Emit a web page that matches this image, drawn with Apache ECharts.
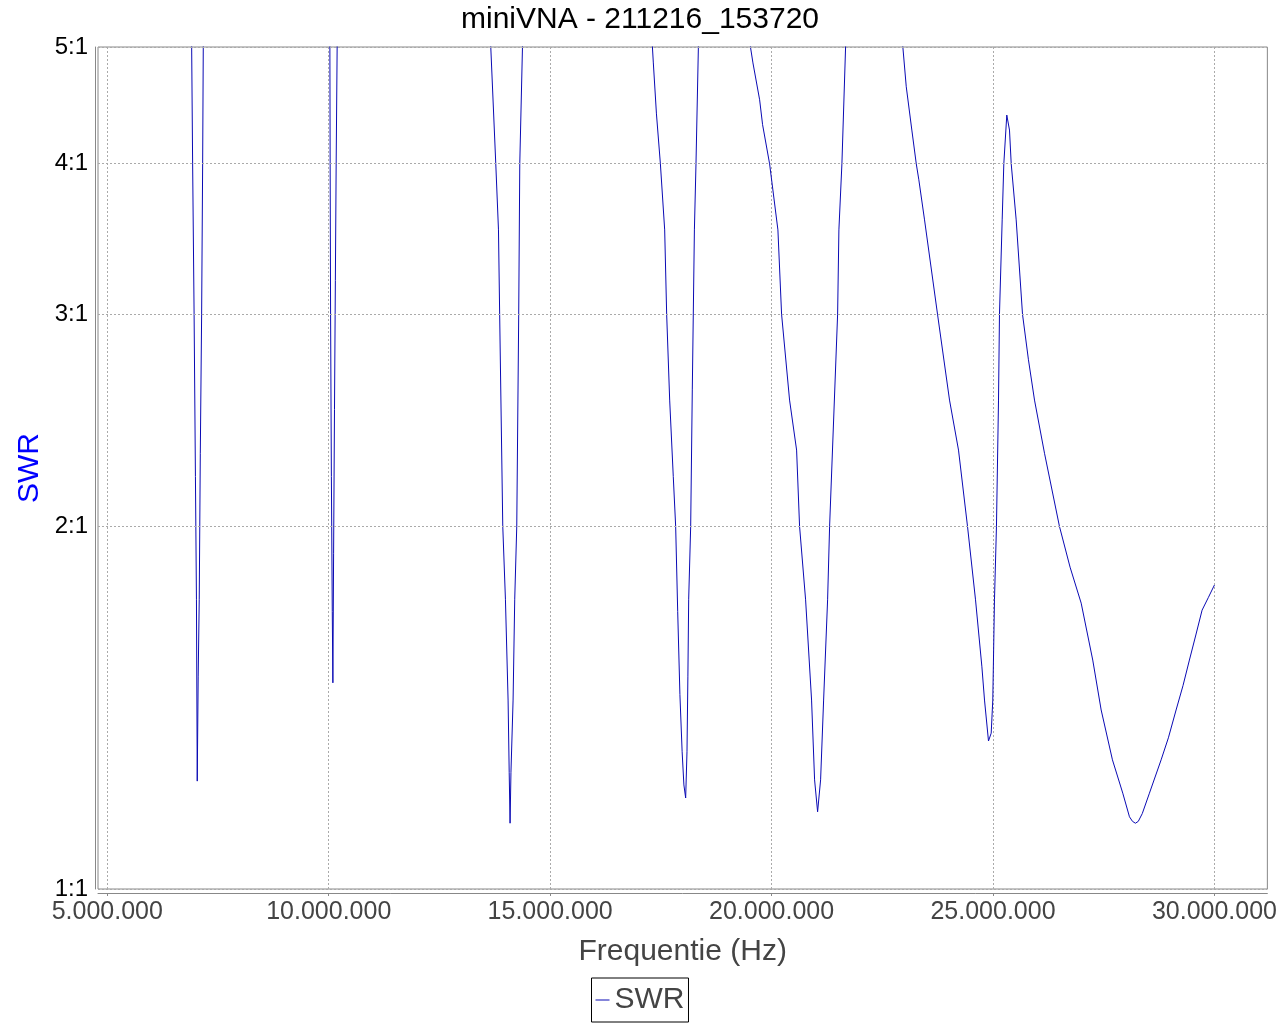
<!DOCTYPE html>
<html>
<head>
<meta charset="utf-8">
<script src="https://cdn.jsdelivr.net/npm/echarts@6/dist/echarts.min.js"></script>
<style>
html,body{margin:0;padding:0;background:#fff;}
#c{width:1280px;height:1024px;}
</style>
</head>
<body>
<div id="c"></div>
<script>
// Frequencies in Hz
const freqHz = [
  5000000, 6000000, 6880000, 6905000, 6927000, 6960000, 6990000, 7013000, 7031000, 7052000,
  7076000, 7100000, 7130000, 7153000, 7167000, 7190000, 8600000,
  10000000, 10026000, 10032000, 10042000, 10060000, 10080000, 10094000, 10110000, 10130000,
  10150000, 10168000, 10190000, 10210000, 12000000,
  13620000, 13659000, 13772000, 13833000, 13860000, 13930000, 13990000, 14050000, 14075000,
  14095000, 14115000, 14163000, 14200000, 14246000, 14290000, 14314000, 14375000, 14400000, 15800000,
  17250000, 17309000, 17330000, 17400000, 17489000, 17586000, 17631000, 17699000, 17780000,
  17834000, 17880000, 17930000, 17980000, 18020000, 18060000, 18090000, 18110000, 18128000,
  18173000, 18210000, 18257000, 18293000, 18347000, 18380000, 18900000,
  19480000, 19523000, 19579000, 19730000, 19797000, 19955000, 20143000, 20226000, 20406000,
  20565000, 20632000, 20768000, 20903000, 20971000, 21039000, 21107000, 21175000, 21265000,
  21310000, 21491000, 21520000, 21588000, 21671000, 21700000, 22300000,
  22920000, 22964000, 23041000, 23167000, 23267000, 23325000, 23454000, 23747000, 24018000,
  24221000, 24424000, 24605000, 24749000, 24808000, 24898000, 24959000, 24995000, 25033000,
  25078000, 25124000, 25146000, 25207000, 25244000, 25311000, 25372000, 25411000, 25523000,
  25666000, 25800000, 25937000, 26163000, 26500000, 26740000, 26991000, 27252000, 27442000,
  27697000, 27930000, 28081000, 28150000, 28216000, 28280000, 28370000, 28532000, 28796000,
  28960000, 29134000, 29290000, 29435000, 29580000, 29721000, 29860000, 30000000
];
const swrValues = [
  12, 15, 5.3, 5.0, 4.0, 3.0, 2.2, 1.74, 1.229, 1.5,
  1.74, 2.3, 3.0, 4.0, 5.0, 5.8, 18,
  5.5, 5.0, 4.0, 3.0, 2.2, 1.7, 1.483, 1.9, 2.5,
  3.2, 4.0, 5.0, 5.8, 14,
  5.4, 5.0, 4.0, 3.525, 3.0, 2.0, 1.74, 1.435, 1.25,
  1.134, 1.25, 1.435, 1.74, 2.0, 3.0, 4.0, 5.0, 5.5, 9,
  5.5, 5.0, 4.85, 4.4, 4.0, 3.525, 3.0, 2.546, 2.2,
  2.0, 1.7, 1.45, 1.3, 1.22, 1.19, 1.3, 1.5, 1.74,
  2.0, 2.6, 3.525, 4.0, 5.0, 5.5, 7,
  5.3, 5.0, 4.85, 4.52, 4.31, 4.0, 3.525, 3.0, 2.546,
  2.314, 2.0, 1.738, 1.435, 1.232, 1.159, 1.232, 1.435, 1.738,
  2.0, 3.0, 3.525, 4.0, 5.0, 5.4, 7,
  5.2, 5.0, 4.634, 4.266, 4.0, 3.879, 3.593, 3.0, 2.546,
  2.314, 2.0, 1.738, 1.529, 1.435, 1.327, 1.347, 1.435, 1.738,
  2.0, 2.546, 3.0, 3.593, 4.0, 4.39, 4.266, 4.0, 3.593,
  3.0, 2.75, 2.546, 2.30, 2.0, 1.85, 1.727, 1.549, 1.408,
  1.280, 1.201, 1.148, 1.138, 1.134, 1.138, 1.155, 1.201, 1.280,
  1.335, 1.408, 1.475, 1.549, 1.625, 1.704, 1.745, 1.788
];
const xTickValues = [5000000, 10000000, 15000000, 20000000, 25000000, 30000000];
const yTickValues = [1, 2, 3, 4, 5];
const titleText = 'miniVNA - 211216_153720';
const xAxisName = 'Frequentie (Hz)';
const yAxisName = 'SWR';
const seriesName = 'SWR';

function fmtHz(v) {
  return String(Math.round(v)).replace(/\B(?=(\d{3})+(?!\d))/g, '.');
}

const FONT = '"Liberation Sans", Arial, sans-serif';
const LINE_COLOR = '#0a0ab4';
const chart = echarts.init(document.getElementById('c'), null, {renderer: 'canvas'});
chart.setOption({
  animation: false,
  backgroundColor: '#ffffff',
  textStyle: {fontFamily: FONT},
  title: {
    text: titleText,
    left: 'center',
    top: 0,
    padding: 5,
    textStyle: {fontSize: 30, fontWeight: 'normal', color: '#000', fontFamily: FONT}
  },
  legend: {
    data: [seriesName],
    left: 'center',
    top: 978,
    padding: [7, 4, 7, 4],
    borderColor: '#000',
    borderWidth: 1,
    icon: 'rect',
    itemWidth: 14,
    itemHeight: 1,
    textStyle: {fontSize: 30, color: '#444', fontFamily: FONT}
  },
  grid: {
    left: 98, right: 12, top: 47, bottom: 135,
    show: true, borderColor: '#888', borderWidth: 1, backgroundColor: '#fff'
  },
  xAxis: {
    type: 'value',
    min: 4790000,
    max: 31195000,
    offset: 4,
    name: xAxisName,
    nameLocation: 'middle',
    nameGap: 44,
    nameTextStyle: {fontSize: 30, color: '#444', fontFamily: FONT},
    axisLine: {show: true, lineStyle: {color: '#888', width: 1}},
    axisTick: {show: true, length: 3, lineStyle: {color: '#888'}, customValues: xTickValues},
    axisLabel: {
      customValues: xTickValues,
      fontSize: 25, color: '#444', margin: 7, fontFamily: FONT,
      formatter: fmtHz
    },
    splitLine: {show: true, lineStyle: {color: '#aaa', type: [2, 2], width: 1}}
  },
  yAxis: {
    type: 'log',
    logBase: 10,
    min: 1,
    max: 5,
    offset: 3,
    name: yAxisName,
    nameLocation: 'middle',
    nameGap: 50,
    nameTextStyle: {fontSize: 30, color: '#0000ff', fontFamily: FONT},
    axisLine: {show: true, lineStyle: {color: '#888', width: 1}},
    axisTick: {show: false},
    axisLabel: {show: false},
    splitLine: {show: false}
  },
  series: [{
    name: seriesName,
    type: 'line',
    data: freqHz.map((f, i) => [f, swrValues[i]]),
    symbol: 'none',
    showSymbol: false,
    clip: true,
    lineStyle: {color: LINE_COLOR, width: 1},
    itemStyle: {color: LINE_COLOR},
    markLine: {
      silent: true,
      symbol: ['none', 'none'],
      animation: false,
      lineStyle: {color: '#aaa', type: [2, 2], width: 1},
      label: {
        show: true,
        position: 'start',
        distance: 10,
        color: '#000',
        fontSize: 24,
        fontFamily: FONT,
        formatter: p => p.value + ':1'
      },
      emphasis: {disabled: true},
      data: yTickValues.map(v => ({yAxis: v}))
    }
  }]
});
</script>
</body>
</html>
